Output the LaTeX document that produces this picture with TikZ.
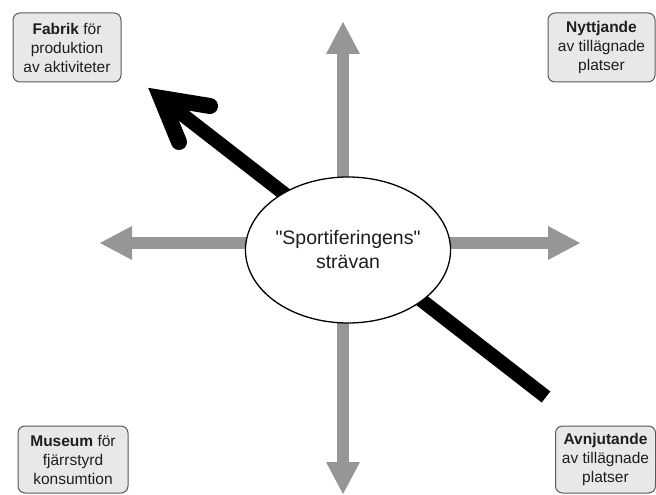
\documentclass[tikz,border=0pt]{standalone}
\usepackage{fontspec}
\setmainfont{Liberation Sans}[Ligatures=TeXOff]
\usetikzlibrary{arrows.meta,shapes.geometric}
\definecolor{arrowgray}{RGB}{150,150,150}
\definecolor{boxfill}{RGB}{232,232,232}
\definecolor{boxline}{RGB}{90,90,90}
\definecolor{txt}{RGB}{30,30,30}
\tikzset{
  infobox/.style={draw=boxline, fill=boxfill, line width=1pt, rounded corners=7pt,
    align=center, inner sep=0pt, text=txt,
    font=\fontsize{15.5}{19}\selectfont},
  grayarrow/.style={draw=arrowgray, line width=12pt,
    -{Triangle[length=32pt,width=34pt,line width=0pt]}},
  bigshaft/.style={draw=black, line width=14pt},
  bighead/.style={draw=black, line width=16pt, line cap=round, line join=miter},
  centre/.style={ellipse, draw=black, fill=white, line width=1.3pt, inner sep=0pt,
    align=center, text=txt, font=\fontsize{19.5}{24}\selectfont}
}
\begin{document}
\begin{tikzpicture}[x=1pt,y=-1pt]
\useasboundingbox (0,0) rectangle (656,495);
% gray arrows
\coordinate (vc) at (343,250);
\coordinate (hc) at (348,243);
\coordinate (up) at (343,22);
\coordinate (down) at (343,494);
\coordinate (left) at (100,243);
\coordinate (right) at (580,243);
\draw[grayarrow] (vc) -- (up);
\draw[grayarrow] (vc) -- (down);
\draw[grayarrow] (hc) -- (left);
\draw[grayarrow] (hc) -- (right);
% black arrow
\coordinate (bstart) at (546,397);
\coordinate (bvertex) at (161,98);
\coordinate (barm1) at (210,106);
\coordinate (barm2) at (179,142);
\draw[bigshaft] (bstart) -- (bvertex);
\draw[bighead] (barm1) -- (bvertex) -- (barm2);
% centre ellipse
\node[centre, minimum width=196pt, minimum height=146pt] (e) at (348,250)
  {"Sportiferingens"\\strävan};
% corner boxes
\node[infobox, minimum width=108pt, minimum height=69pt] (fab) at (67,47.5)
  {\textbf{Fabrik} för\\produktion\\av aktiviteter};
\node[infobox, minimum width=107pt, minimum height=69pt] (nyt) at (601.5,47.5)
  {\textbf{Nyttjande}\\av tillägnade\\platser};
\node[infobox, minimum width=110pt, minimum height=67pt] (mus) at (73,459.5)
  {\textbf{Museum} för\\fjärrstyrd\\konsumtion};
\node[infobox, minimum width=100pt, minimum height=67pt] (avn) at (605.5,459.5)
  {\textbf{Avnjutande}\\av tillägnade\\platser};
\end{tikzpicture}
\end{document}
